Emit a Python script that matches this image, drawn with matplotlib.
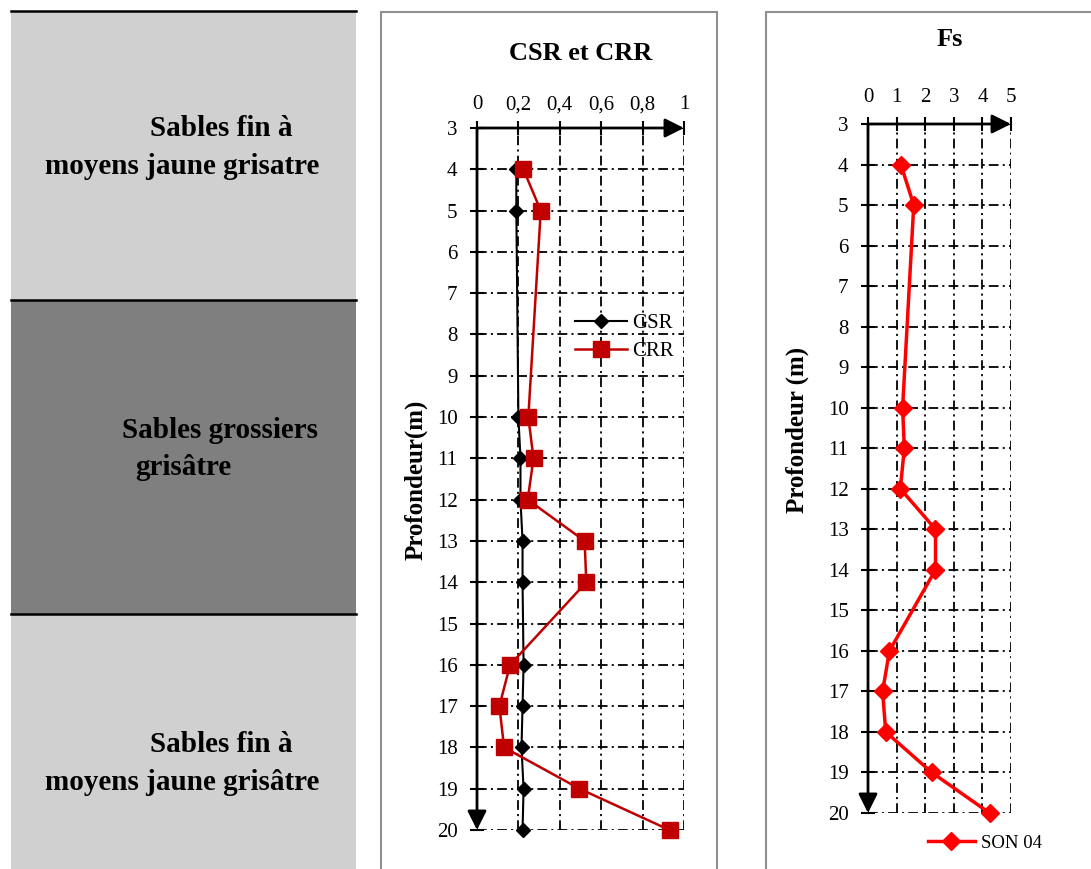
import matplotlib.pyplot as plt
from matplotlib.patches import Rectangle
from matplotlib.lines import Line2D

W, H = 1091, 869

# depth of each sample (m)
depth = [4, 5, 10, 11, 12, 13, 14, 16, 17, 18, 19, 20]
csr = [0.19, 0.19, 0.20, 0.21, 0.21, 0.22, 0.22, 0.225, 0.22, 0.215, 0.225, 0.22]
crr = [0.224, 0.308, 0.248, 0.273, 0.245, 0.52, 0.528, 0.16, 0.108, 0.131, 0.495, 0.93]
fs = [1.15, 1.6, 1.21, 1.27, 1.13, 2.36, 2.36, 0.75, 0.51, 0.62, 2.23, 4.25]

csr_ticks = [0, 0.2, 0.4, 0.6, 0.8, 1]
csr_ticklabels = ['0', '0,2', '0,4', '0,6', '0,8', '1']
fs_ticks = [0, 1, 2, 3, 4, 5]
depth_ticks = list(range(3, 21))

# lithology column: (line 1, line 2, colour)
layers = [
    ('Sables fin à', 'moyens jaune grisatre', '#d0d0d0'),
    ('Sables grossiers', 'grisâtre', '#7f7f7f'),
    ('Sables fin à', 'moyens jaune grisâtre', '#d0d0d0'),
]

plt.rcParams['font.family'] = ['Liberation Serif', 'DejaVu Serif']
plt.rcParams['lines.scale_dashes'] = False

fig = plt.figure(figsize=(W / 100, H / 100), dpi=100)


def fx(x):
    return x / W


def fy(y):
    return 1 - y / H


# --- lithology column (pixel layout) ---
col_left, col_right = 11, 356
edges = [11, 300, 614, 880]
text_pos = [((150, 128), (45, 166)), ((122, 430), (135, 468)), ((150, 745), (45, 782))]
for (l1, l2, color), top, bot, ((x1, y1), (x2, y2)) in zip(layers, edges[:-1], edges[1:], text_pos):
    fig.add_artist(Rectangle((fx(col_left), fy(bot)), fx(col_right) - fx(col_left), fy(top) - fy(bot),
                             transform=fig.transFigure, facecolor=color, edgecolor='none'))
    fig.add_artist(Line2D([fx(col_left), fx(col_right)], [fy(top), fy(top)],
                          transform=fig.transFigure, color='k', lw=1.8))
    fig.text(fx(x1), fy(y1), l1, fontsize=21, fontweight='bold', ha='left', va='center')
    fig.text(fx(x2), fy(y2), l2, fontsize=21, fontweight='bold', ha='left', va='center')

# panel frames
for left, right in [(381, 717), (766, 1100)]:
    fig.add_artist(Rectangle((fx(left), fy(880)), fx(right) - fx(left), fy(12) - fy(880),
                             transform=fig.transFigure, facecolor='none', edgecolor='#8f8f8f', lw=1.5))

arrow = dict(arrowstyle='-|>,head_length=0.5,head_width=0.25', color='k', lw=2,
             mutation_scale=23, shrinkA=0, shrinkB=0)


def depth_axes(ax, xmax, xticks, xlabels, xpad):
    ax.set_xlim(0, xmax)
    ax.set_ylim(20, 3)
    ax.patch.set_alpha(0)
    for s in ax.spines.values():
        s.set_visible(False)
    ax.xaxis.tick_top()
    ax.set_xticks(xticks)
    ax.set_xticklabels(xlabels)
    ax.set_yticks(depth_ticks)
    ax.tick_params(direction='inout', length=10, width=1.5, labelsize=15)
    ax.tick_params(axis='x', pad=xpad)
    ax.tick_params(axis='y', pad=9)
    ax.grid(True, color='k', lw=1.3, linestyle=(0, (7, 3, 1.5, 3)))
    ax.annotate('', xy=(xmax, 3), xytext=(0, 3), arrowprops=arrow, annotation_clip=False)
    ax.annotate('', xy=(0, 20), xytext=(0, 3), arrowprops=arrow, annotation_clip=False)


# --- CSR / CRR ---
ax1 = fig.add_axes([fx(477), fy(830), fx(684) - fx(477), fy(128) - fy(830)])
depth_axes(ax1, 1, csr_ticks, csr_ticklabels, 5)
ax1.plot(csr, depth, color='k', marker='D', ms=7.5, lw=1.5, clip_on=False, label='GSR', zorder=4)
ax1.plot(crr, depth, color='#c00000', marker='s', ms=11, lw=1.8, clip_on=False, label='CRR', zorder=5)
ax1.legend(loc='upper left', bbox_to_anchor=(0.473, 0.736), frameon=False, fontsize=15,
           handlelength=2.5, handletextpad=0.25, borderpad=0, borderaxespad=0, labelspacing=0.4)
fig.text(fx(581), fy(54), 'CSR et CRR', fontsize=19, fontweight='bold', ha='center', va='center')
fig.text(fx(416), fy(480), 'Profondeur(m)', fontsize=18, fontweight='bold', rotation=90,
         ha='center', va='center')

# --- safety factor ---
ax2 = fig.add_axes([fx(868), fy(813), fx(1011) - fx(868), fy(124) - fy(813)])
depth_axes(ax2, 5, fs_ticks, [str(t) for t in fs_ticks], 7)
ax2.plot(fs, depth, color='#ff0000', marker='D', ms=9, lw=2.5, clip_on=False, label='SON 04', zorder=4)
ax2.legend(loc='center left', bbox_to_anchor=(0.42, -0.044), frameon=False, fontsize=13.5,
           handlelength=2.5, handletextpad=0.3, borderpad=0, borderaxespad=0)
fig.text(fx(950), fy(40), 'Fs', fontsize=19, fontweight='bold', ha='center', va='center')
fig.text(fx(797), fy(430), 'Profondeur (m)', fontsize=18, fontweight='bold', rotation=90,
         ha='center', va='center')

fig.savefig('out.png', dpi=100)
